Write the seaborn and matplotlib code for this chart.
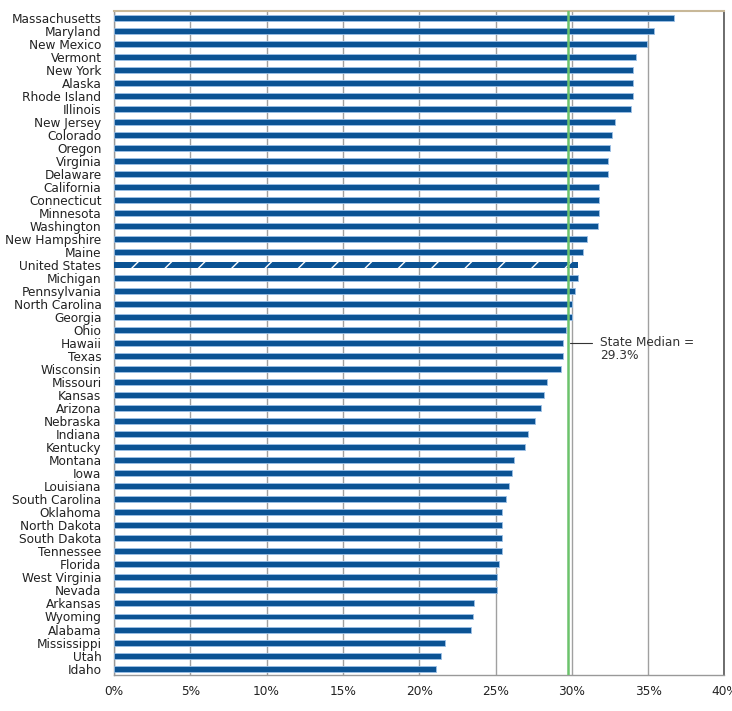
import numpy as np
import pandas as pd
import matplotlib.pyplot as plt
import seaborn as sns

states = ['Massachusetts', 'Maryland', 'New Mexico', 'Vermont', 'New York', 'Alaska',
          'Rhode Island', 'Illinois', 'New Jersey', 'Colorado', 'Oregon', 'Virginia',
          'Delaware', 'California', 'Connecticut', 'Minnesota', 'Washington',
          'New Hampshire', 'Maine', 'United States', 'Michigan', 'Pennsylvania',
          'North Carolina', 'Georgia', 'Ohio', 'Hawaii', 'Texas', 'Wisconsin',
          'Missouri', 'Kansas', 'Arizona', 'Nebraska', 'Indiana', 'Kentucky',
          'Montana', 'Iowa', 'Louisiana', 'South Carolina', 'Oklahoma', 'North Dakota',
          'South Dakota', 'Tennessee', 'Florida', 'West Virginia', 'Nevada',
          'Arkansas', 'Wyoming', 'Alabama', 'Mississippi', 'Utah', 'Idaho']
values = [36.7, 35.4, 34.9, 34.2, 34.0, 34.0,
          34.0, 33.9, 32.8, 32.6, 32.5, 32.4,
          32.4, 31.8, 31.8, 31.8, 31.7,
          31.0, 30.7, 30.4, 30.4, 30.2,
          30.0, 30.0, 29.65, 29.4, 29.4, 29.3,
          28.4, 28.2, 28.0, 27.6, 27.1, 26.9,
          26.2, 26.1, 25.9, 25.7, 25.4, 25.4,
          25.4, 25.4, 25.2, 25.1, 25.1,
          23.6, 23.5, 23.4, 21.7, 21.4, 21.1]
median_pos = 29.75          # where the green line sits in the chart
median_label = 'State Median =\n29.3%'

df = pd.DataFrame({'State': states, 'Pct': values})

sns.set_style('white')
plt.rcParams['font.family'] = ['DejaVu Sans']
plt.rcParams['hatch.linewidth'] = 1.0

fig = plt.figure(figsize=(7.32, 7.11), dpi=100)
ax = fig.add_axes([0.1557, 0.0505, 0.834, 0.934])

bar_blue = '#0b5394'
sns.barplot(data=df, x='Pct', y='State', color=bar_blue, orient='h',
            width=0.46, saturation=1, ax=ax, zorder=3)
for patch, st in zip(ax.patches, states):
    if st == 'United States':
        patch.set_hatch('/')
        patch.set_edgecolor('white')
        patch.set_linewidth(0)
    else:
        patch.set_edgecolor('#9cc0e6')
        patch.set_linewidth(0.6)

ax.set_xlim(0, 40)
ax.set_ylim(len(states) - 0.5, -0.5)
ax.set_xticks(np.arange(0, 41, 5))
ax.set_xticklabels([f'{t}%' for t in range(0, 41, 5)], fontsize=8.7, color='#222222')
ax.set_xlabel('')
ax.set_ylabel('')
ax.tick_params(axis='y', length=0, labelsize=8.7, pad=9, labelcolor='#222222')
ax.set_yticks(np.arange(-0.5, len(states), 1), minor=True)
ax.tick_params(axis='y', which='minor', length=3, color='#999999', width=0.8)
ax.tick_params(axis='x', length=3, color='#999999', width=0.8, pad=4)
ax.xaxis.grid(True, color='#a0a0a0', linewidth=1.0, zorder=1)
ax.set_axisbelow(True)

for side in ['left', 'bottom']:
    ax.spines[side].set_color('#999999')
    ax.spines[side].set_linewidth(1.0)
ax.spines['top'].set_color('#c8b898')
ax.spines['top'].set_linewidth(1.5)
ax.spines['right'].set_color('#555555')
ax.spines['right'].set_linewidth(1.2)

ax.axvline(median_pos, color='#6cc36c', linewidth=1.8, zorder=4)
row = states.index('Hawaii')
ax.plot([median_pos + 0.1, median_pos + 1.6], [row, row],
        color='#333333', linewidth=0.8, zorder=5)
ax.text(median_pos + 2.1, row - 0.55, median_label, fontsize=8.7,
        color='#333333', va='top', ha='left', linespacing=1.05)

plt.savefig('out.png', dpi=100)
